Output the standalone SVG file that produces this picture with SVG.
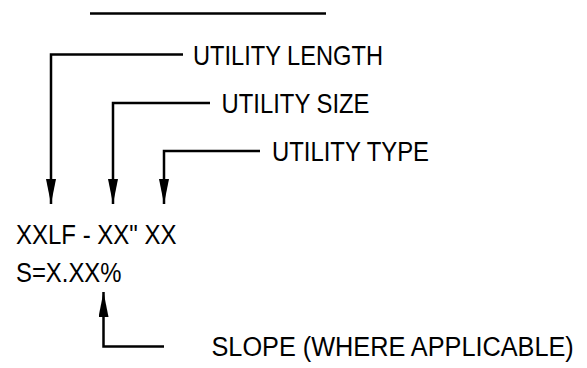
<svg xmlns="http://www.w3.org/2000/svg" width="587" height="368" viewBox="0 0 587 368">
<defs>
<style>
.t{font-family:"Liberation Sans",Arial,sans-serif;font-size:28px;fill:#000}
.l{fill:none;stroke:#000;stroke-width:2.5}
</style>
<marker id="ah" viewBox="0 0 25 10" refX="25" refY="5" markerWidth="25" markerHeight="10" markerUnits="userSpaceOnUse" orient="auto">
<path d="M0,0 L25,5 L0,10 Z" fill="#000"/>
</marker>
</defs>
<g id="top-line"><line class="l" x1="90" y1="13.5" x2="326" y2="13.5"/></g>
<g id="connectors">
<polyline class="l" points="183,54.5 51,54.5 51,204" marker-end="url(#ah)"/>
<polyline class="l" points="210,103 113,103 113,204" marker-end="url(#ah)"/>
<polyline class="l" points="260,151 164,151 164,204" marker-end="url(#ah)"/>
<polyline class="l" points="164,346.5 103.5,346.5 103.5,292" marker-end="url(#ah)"/>
</g>
<g id="utility-length"><text class="t" x="193" y="65" textLength="190" lengthAdjust="spacingAndGlyphs">UTILITY LENGTH</text></g>
<g id="utility-size"><text class="t" x="221.5" y="113" textLength="148" lengthAdjust="spacingAndGlyphs">UTILITY SIZE</text></g>
<g id="utility-type"><text class="t" x="272" y="161" textLength="157" lengthAdjust="spacingAndGlyphs">UTILITY TYPE</text></g>
<g id="label"><text class="t" x="16" y="243.5" textLength="160.5" lengthAdjust="spacingAndGlyphs">XXLF - XX" XX</text></g>
<g id="slope-value"><text class="t" x="16" y="281.5" textLength="105.5" lengthAdjust="spacingAndGlyphs">S=X.XX%</text></g>
<g id="slope"><text class="t" transform="translate(211.5,356) scale(0.903,1)" x="0" y="0">SLOPE (WHERE APPLICABLE)</text></g>
</svg>
